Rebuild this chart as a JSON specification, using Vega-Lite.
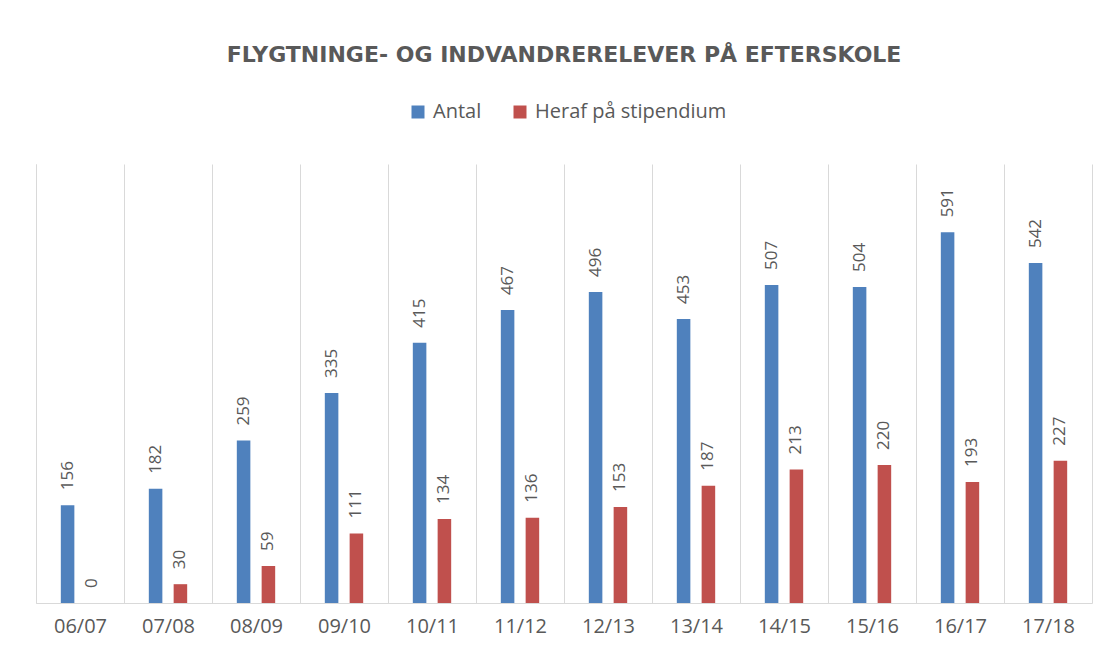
{
  "$schema": "https://vega.github.io/schema/vega-lite/v6.json",
  "width": 1056,
  "height": 439,
  "autosize": "none",
  "padding": {"left": 36, "top": 164, "right": 18, "bottom": 50},
  "background": "white",
  "title": {
    "text": "FLYGTNINGE- OG INDVANDRERELEVER PÅ EFTERSKOLE",
    "font": "DejaVu Sans",
    "fontSize": 22,
    "fontWeight": "bold",
    "color": "#595959",
    "anchor": "middle",
    "offset": 35
  },
  "data": {
    "values": [
      {"aar": "06/07", "serie": "Antal", "antal": 156},
      {"aar": "06/07", "serie": "Heraf på stipendium", "antal": 0},
      {"aar": "07/08", "serie": "Antal", "antal": 182},
      {"aar": "07/08", "serie": "Heraf på stipendium", "antal": 30},
      {"aar": "08/09", "serie": "Antal", "antal": 259},
      {"aar": "08/09", "serie": "Heraf på stipendium", "antal": 59},
      {"aar": "09/10", "serie": "Antal", "antal": 335},
      {"aar": "09/10", "serie": "Heraf på stipendium", "antal": 111},
      {"aar": "10/11", "serie": "Antal", "antal": 415},
      {"aar": "10/11", "serie": "Heraf på stipendium", "antal": 134},
      {"aar": "11/12", "serie": "Antal", "antal": 467},
      {"aar": "11/12", "serie": "Heraf på stipendium", "antal": 136},
      {"aar": "12/13", "serie": "Antal", "antal": 496},
      {"aar": "12/13", "serie": "Heraf på stipendium", "antal": 153},
      {"aar": "13/14", "serie": "Antal", "antal": 453},
      {"aar": "13/14", "serie": "Heraf på stipendium", "antal": 187},
      {"aar": "14/15", "serie": "Antal", "antal": 507},
      {"aar": "14/15", "serie": "Heraf på stipendium", "antal": 213},
      {"aar": "15/16", "serie": "Antal", "antal": 504},
      {"aar": "15/16", "serie": "Heraf på stipendium", "antal": 220},
      {"aar": "16/17", "serie": "Antal", "antal": 591},
      {"aar": "16/17", "serie": "Heraf på stipendium", "antal": 193},
      {"aar": "17/18", "serie": "Antal", "antal": 542},
      {"aar": "17/18", "serie": "Heraf på stipendium", "antal": 227}
    ]
  },
  "encoding": {
    "x": {
      "field": "aar",
      "type": "nominal",
      "sort": null,
      "scale": {"paddingInner": 0, "paddingOuter": 0},
      "axis": {
        "title": null,
        "labelAngle": 0,
        "labelFont": "Open Sans",
        "labelFontSize": 20,
        "labelColor": "#595959",
        "labelPadding": 13,
        "ticks": false,
        "domainColor": "#D9D9D9",
        "grid": true,
        "gridColor": "#D9D9D9",
        "tickBand": "extent"
      }
    },
    "xOffset": {
      "field": "serie",
      "type": "nominal",
      "sort": ["Antal", "Heraf på stipendium"],
      "scale": {"paddingInner": 0.4545, "paddingOuter": 1.227}
    },
    "y": {
      "field": "antal",
      "type": "quantitative",
      "scale": {"domain": [0, 700]},
      "axis": {
        "title": null,
        "labels": false,
        "ticks": false,
        "grid": false,
        "domainColor": "#D9D9D9"
      }
    }
  },
  "layer": [
    {
      "mark": {"type": "bar"},
      "encoding": {
        "color": {
          "field": "serie",
          "type": "nominal",
          "sort": ["Antal", "Heraf på stipendium"],
          "scale": {"range": ["#4F81BD", "#C0504D"]},
          "legend": {
            "title": null,
            "orient": "none",
            "legendX": 372,
            "legendY": -62,
            "direction": "horizontal",
            "symbolType": "square",
            "symbolSize": 169,
            "symbolStrokeWidth": 0,
            "labelFont": "Open Sans",
            "labelFontSize": 20,
            "labelColor": "#595959",
            "labelOffset": 5,
            "labelLimit": 400,
            "columnPadding": 28
          }
        }
      }
    },
    {
      "mark": {
        "type": "text",
        "angle": 270,
        "align": "left",
        "baseline": "middle",
        "dx": 15,
        "font": "Open Sans",
        "fontSize": 17,
        "color": "#595959"
      },
      "encoding": {"text": {"field": "antal", "type": "quantitative"}}
    }
  ],
  "config": {"view": {"stroke": null}}
}
